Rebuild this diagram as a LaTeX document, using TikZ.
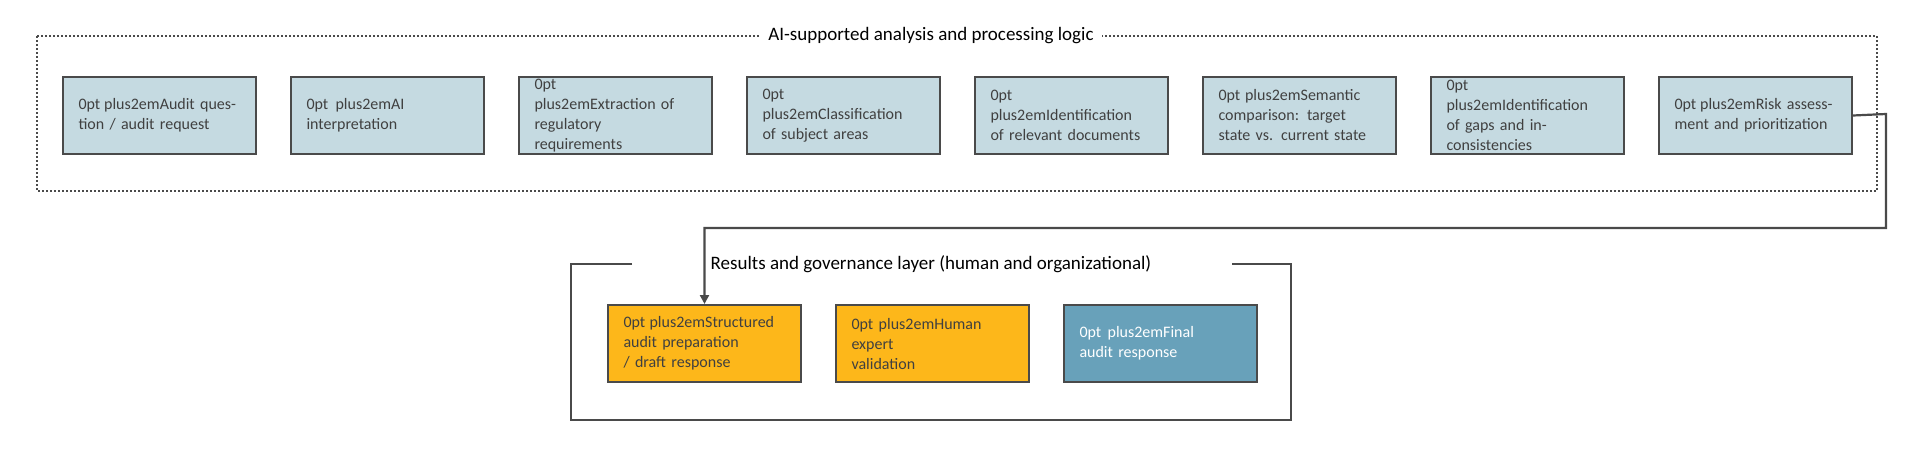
\documentclass[tikz,border=0pt]{standalone}
\usepackage{fontspec}
\setmainfont{Carlito}
\usetikzlibrary{arrows.meta}
\definecolor{lb}{HTML}{C5DAE1}
\definecolor{og}{HTML}{FDB71A}
\definecolor{tl}{HTML}{68A1BA}
\definecolor{bd}{HTML}{4A4A4A}
\definecolor{tx}{HTML}{404040}
\begin{document}
\begin{tikzpicture}[x=1pt,y=-1pt,
 box/.style={draw=bd,line width=2pt,minimum width=193pt,minimum height=77pt,text width=162pt,align=center,font=\fontsize{16}{20}\selectfont\hyphenpenalty=10000\exhyphenpenalty=10000,text=tx,anchor=north west,inner sep=0pt},
 title/.style={font=\fontsize{19}{23}\selectfont,text=black,fill=white,inner xsep=8pt}]
\useasboundingbox (0,0) rectangle (1920,456);
\draw[bd,line width=2pt,dotted] (37,36) rectangle (1877,191);
\node[title] (t1) at (931,36) {AI-supported analysis and processing logic};
\foreach \i/\t in {1/{Audit question / audit request},2/{AI interpretation},3/{Extraction of\\ regulatory\\ requirements},4/{Classification of subject areas},5/{Identification of relevant documents},6/{Semantic\\ comparison: target state vs. current state},7/{Identification of gaps and inconsistencies},8/{Risk assessment and prioritization}}
 \node[box,fill=lb] (b\i) at ({62+228*(\i-1)},76) {\t};
\draw[bd,line width=2pt] (632,264) -- (571,264) -- (571,420) -- (1291,420) -- (1291,264) -- (1232,264);
\node[title,fill=none] (t2) at (931,264) {Results and governance layer (human and organizational)};
\node[box,fill=og] (ra) at (607,304) {Structured audit preparation / draft response};
\node[box,fill=og] (rb) at (835,304) {Human expert\\ validation};
\node[box,fill=tl,text=white] (rc) at (1063,304) {Final audit response};
\coordinate (c1) at (1886,114);
\coordinate (c2) at (1886,228);
\draw[bd,line width=2.2pt,-{Triangle[length=9pt,width=9pt]}] (b8.east) -- (c1) -- (c2) -| (ra.north);
\end{tikzpicture}
\end{document}
